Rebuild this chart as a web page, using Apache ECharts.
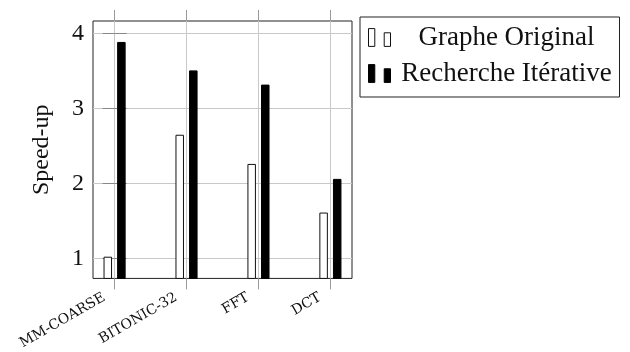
<!DOCTYPE html>
<html>
<head>
<meta charset="utf-8">
<script src="https://cdn.jsdelivr.net/npm/echarts@6/dist/echarts.min.js"></script>
<style>html,body{margin:0;padding:0;background:#fff}#c{width:630px;height:352px}</style>
</head>
<body>
<div id="c"></div>
<script>
const categories = ['MM-COARSE', 'BITONIC-32', 'FFT', 'DCT'];
const seriesNames = ['Graphe Original', 'Recherche Itérative'];
const grapheOriginal = [1.02, 2.65, 2.26, 1.61];
const rechercheIterative = [3.89, 3.51, 3.32, 2.06];
const yTicks = [1, 2, 3, 4];
const xTicks = categories.map((c, i) => i);

const serif = 'Liberation Serif';
const chart = echarts.init(document.getElementById('c'), null, {renderer: 'canvas'});
const iconPath = 'path://M0,0H6V17H0Z M15,4H21V17H15Z';

chart.setOption({
  animation: false,
  backgroundColor: '#fff',
  textStyle: {fontFamily: serif, color: '#111'},
  grid: {left: 93, top: 21, width: 259, height: 258, show: true, borderColor: '#222', borderWidth: 1, backgroundColor: 'transparent'},
  legend: {
    orient: 'vertical', left: 360, top: 17,
    padding: [7, 2, 10, 8], itemGap: 9,
    borderColor: '#222', borderWidth: 1, backgroundColor: '#fff',
    itemWidth: 22, itemHeight: 18,
    formatter: '{t|{name}}',
    textStyle: {fontFamily: serif, fontSize: 27, color: '#111', rich: {t: {width: 222, align: 'center', fontFamily: serif, fontSize: 27, lineHeight: 28}}},
    data: [
      {name: seriesNames[0], icon: iconPath, itemStyle: {color: '#fff', borderColor: '#111', borderWidth: 1}},
      {name: seriesNames[1], icon: iconPath, itemStyle: {color: '#000', borderColor: '#000', borderWidth: 1}}
    ]
  },
  xAxis: [{
    type: 'value', min: -0.3, max: 3.3, position: 'bottom',
    axisLine: {show: false},
    axisTick: {show: true, inside: false, length: 11, lineStyle: {color: '#999'}, customValues: xTicks},
    splitLine: {show: true, lineStyle: {color: '#c8c8c8', width: 1}},
    axisLabel: {customValues: xTicks, rotate: 30, margin: 12, padding: [0, 12, 0, 0],
      fontFamily: 'DejaVu Serif', fontSize: 14, color: '#111',
      formatter: v => categories[Math.round(v)]}
  }, {
    type: 'value', min: -0.3, max: 3.3, position: 'top',
    axisLine: {show: false},
    axisTick: {show: true, inside: false, length: 11, lineStyle: {color: '#999'}, customValues: xTicks},
    splitLine: {show: false},
    axisLabel: {show: false}
  }],
  yAxis: [{
    type: 'value', min: 0.73, max: 4.17, position: 'left',
    name: 'Speed-up', nameLocation: 'middle', nameGap: 39, nameRotate: 90,
    nameTextStyle: {fontFamily: serif, fontSize: 24, color: '#111'},
    axisLine: {show: false},
    axisTick: {show: true, inside: true, length: 12, lineStyle: {color: '#888'}, customValues: yTicks},
    splitLine: {show: true, lineStyle: {color: '#c8c8c8', width: 1}},
    axisLabel: {customValues: yTicks, margin: 9, fontFamily: serif, fontSize: 24, color: '#111'}
  }, {
    type: 'value', min: 0.73, max: 4.17, position: 'right',
    axisLine: {show: false},
    axisTick: {show: true, inside: true, length: 12, lineStyle: {color: '#888'}, customValues: yTicks},
    splitLine: {show: false},
    axisLabel: {show: false}
  }],
  series: [{
    name: seriesNames[0], type: 'bar', xAxisIndex: 0, yAxisIndex: 0,
    barWidth: 8.5, barGap: '60%',
    itemStyle: {color: '#fff', borderColor: '#111', borderWidth: 1},
    data: grapheOriginal.map((v, i) => [xTicks[i], v])
  }, {
    name: seriesNames[1], type: 'bar', xAxisIndex: 0, yAxisIndex: 0,
    barWidth: 8.5, barGap: '60%',
    itemStyle: {color: '#000', borderColor: '#000', borderWidth: 1},
    data: rechercheIterative.map((v, i) => [xTicks[i], v])
  }]
});
</script>
</body>
</html>
